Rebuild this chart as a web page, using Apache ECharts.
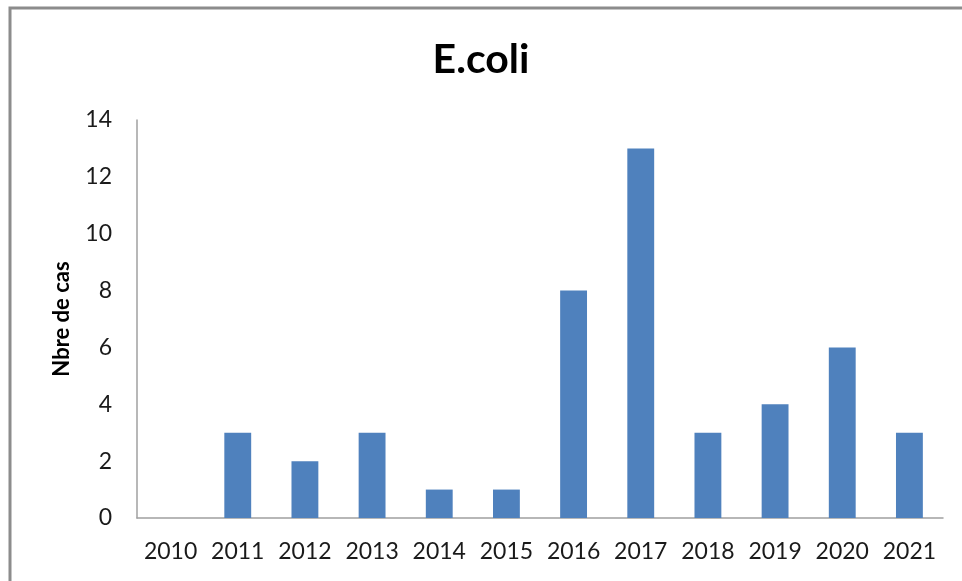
<!DOCTYPE html>
<html>
<head>
<meta charset="utf-8">
<script src="https://cdn.jsdelivr.net/npm/echarts@6/dist/echarts.min.js"></script>
<style>
  html, body { margin: 0; padding: 0; background: #fff; }
  #chart { width: 962px; height: 581px; }
</style>
</head>
<body>
<div id="chart"></div>
<script>
// Annual E.coli case counts
const years = ['2010', '2011', '2012', '2013', '2014', '2015', '2016', '2017', '2018', '2019', '2020', '2021'];
const cases = [0, 3, 2, 3, 1, 1, 8, 13, 3, 4, 6, 3];
const titleText = 'E.coli';
const yAxisName = 'Nbre de cas';

const font = 'Lato, "Open Sans", sans-serif';
const chart = echarts.init(document.getElementById('chart'), null, { renderer: 'canvas' });

chart.setOption({
  animation: false,
  backgroundColor: '#ffffff',
  title: {
    text: titleText,
    left: 'center',
    top: 34,
    textStyle: { fontFamily: font, fontSize: 41, fontWeight: 'bold', color: '#000' }
  },
  grid: { left: 137, right: 19, top: 120, bottom: 63, containLabel: false },
  xAxis: {
    type: 'category',
    data: years,
    axisLine: { lineStyle: { color: '#a0a0a0', width: 1.5 } },
    axisTick: { show: false },
    axisLabel: { interval: 0, hideOverlap: false, fontFamily: font, fontSize: 23, color: '#1a1a1a', margin: 22 },
    splitLine: { show: false }
  },
  yAxis: {
    type: 'value',
    min: 0,
    max: 14,
    interval: 2,
    name: yAxisName,
    nameLocation: 'middle',
    nameGap: 64,
    nameTextStyle: { fontFamily: font, fontSize: 22, fontWeight: 'bold', color: '#000' },
    axisLine: { show: true, lineStyle: { color: '#a0a0a0', width: 1.5 } },
    axisTick: { show: false },
    axisLabel: { fontFamily: font, fontSize: 23, color: '#1a1a1a', margin: 25 },
    splitLine: { show: false }
  },
  series: [{
    type: 'bar',
    data: cases,
    barWidth: '40%',
    itemStyle: { color: '#4f81bd' }
  }],
  graphic: [{
    type: 'polyline',
    silent: true,
    shape: { points: [[10, 581], [10, 8], [962, 8]] },
    style: { stroke: '#8c8c8c', lineWidth: 3, fill: null }
  }]
});
</script>
</body>
</html>
